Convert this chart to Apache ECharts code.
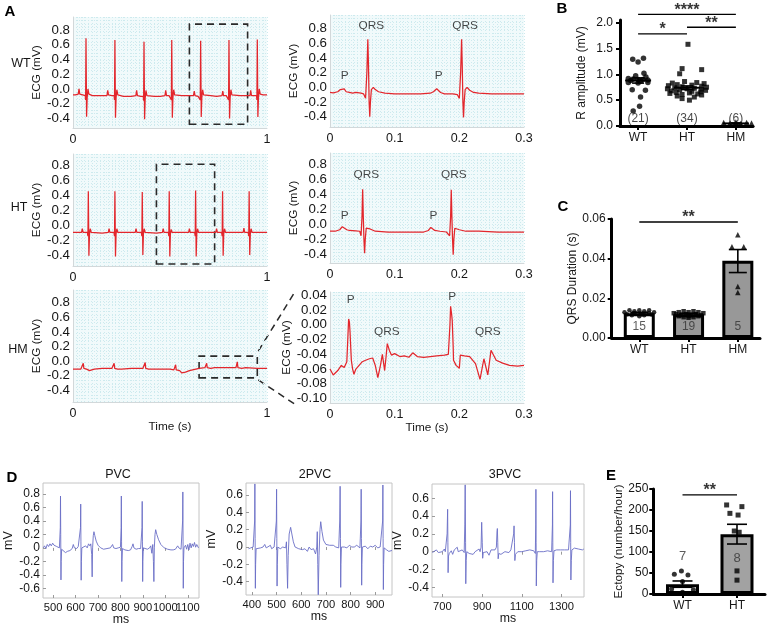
<!DOCTYPE html>
<html><head><meta charset="utf-8">
<script src="https://cdn.jsdelivr.net/npm/echarts@6/dist/echarts.min.js"></script>
<style>html,body{margin:0;padding:0;background:#fff}#c{width:767px;height:630px}</style>
</head><body><div id="c"></div>
<script>
// ---------------- DATA ----------------
const rowLabels = ['WT', 'HT', 'HM'];
// Panel A: ECG traces [time (s), mV]
const wtLong = [
[0,-0.08],[0.012,-0.08],[0.027,-0.07],[0.031,0.0],[0.035,-0.07],[0.05,-0.08],[0.063,-0.09],[0.065,-0.15],[0.067,0.687],[0.07,-0.378],[0.073,-0.12],[0.077,0.0],[0.082,-0.07],[0.1,-0.09],[0.13,-0.09],[0.16,-0.09],
[0.175,-0.09],[0.179,-0.02],[0.183,-0.08],[0.2,-0.09],[0.212,-0.09],[0.214,-0.15],[0.216,0.664],[0.219,-0.39],[0.222,-0.12],[0.226,-0.01],[0.231,-0.08],[0.26,-0.1],[0.3,-0.1],
[0.324,-0.09],[0.328,-0.02],[0.332,-0.09],[0.35,-0.1],[0.362,-0.1],[0.364,-0.16],[0.366,0.64],[0.369,-0.41],[0.372,-0.13],[0.376,-0.02],[0.381,-0.09],[0.42,-0.1],[0.45,-0.1],
[0.474,-0.09],[0.478,-0.02],[0.482,-0.09],[0.495,-0.09],[0.505,-0.09],[0.507,-0.15],[0.509,0.664],[0.512,-0.39],[0.515,-0.12],[0.519,-0.01],[0.524,-0.08],[0.56,-0.09],[0.59,-0.09],
[0.621,-0.09],[0.625,-0.03],[0.629,-0.09],[0.645,-0.1],[0.654,-0.09],[0.656,-0.15],[0.658,0.655],[0.661,-0.38],[0.664,-0.12],[0.668,-0.01],[0.673,-0.08],[0.71,-0.09],[0.74,-0.1],
[0.768,-0.09],[0.772,-0.03],[0.776,-0.09],[0.79,-0.09],[0.8,-0.09],[0.802,-0.15],[0.804,0.664],[0.807,-0.4],[0.81,-0.12],[0.814,-0.01],[0.819,-0.08],[0.86,-0.09],[0.89,-0.09],
[0.912,-0.09],[0.916,-0.02],[0.92,-0.09],[0.935,-0.09],[0.946,-0.09],[0.948,-0.15],[0.95,0.67],[0.953,-0.38],[0.956,-0.12],[0.96,0.0],[0.965,-0.07],[0.98,-0.08],[1,-0.08]
];
const htLong = [
[0,-0.1],[0.03,-0.1],[0.044,-0.1],[0.048,-0.05],[0.052,-0.1],[0.074,-0.1],[0.077,-0.15],[0.079,0.45],[0.082,-0.41],[0.085,-0.12],[0.089,-0.05],[0.094,-0.1],[0.15,-0.11],
[0.182,-0.1],[0.186,-0.05],[0.19,-0.1],[0.211,-0.1],[0.214,-0.15],[0.216,0.45],[0.219,-0.42],[0.222,-0.12],[0.226,-0.05],[0.231,-0.1],[0.29,-0.1],
[0.321,-0.1],[0.325,-0.05],[0.329,-0.1],[0.352,-0.1],[0.355,-0.15],[0.357,0.44],[0.36,-0.4],[0.363,-0.12],[0.367,-0.05],[0.372,-0.1],[0.43,-0.11],
[0.461,-0.1],[0.465,-0.05],[0.469,-0.1],[0.491,-0.1],[0.494,-0.15],[0.496,0.45],[0.499,-0.42],[0.502,-0.12],[0.506,-0.06],[0.511,-0.1],[0.57,-0.1],
[0.596,-0.1],[0.6,-0.05],[0.604,-0.1],[0.627,-0.1],[0.63,-0.15],[0.632,0.46],[0.635,-0.42],[0.638,-0.12],[0.642,-0.05],[0.647,-0.1],[0.7,-0.1],
[0.736,-0.1],[0.74,-0.05],[0.744,-0.1],[0.766,-0.1],[0.769,-0.15],[0.771,0.45],[0.774,-0.41],[0.777,-0.12],[0.781,-0.05],[0.786,-0.1],[0.85,-0.1],
[0.877,-0.1],[0.881,-0.04],[0.885,-0.1],[0.903,-0.1],[0.906,-0.15],[0.908,0.45],[0.911,-0.4],[0.914,-0.12],[0.918,-0.05],[0.923,-0.1],[1,-0.1]
];
const hmLong = [
[0,-0.11],[0.04,-0.11],[0.05,-0.1],[0.053,-0.03],[0.056,-0.1],[0.07,-0.11],[0.08,-0.12],[0.085,-0.13],[0.09,-0.11],[0.11,-0.11],[0.15,-0.1],[0.2,-0.1],
[0.21,-0.1],[0.212,-0.03],[0.215,-0.1],[0.23,-0.11],[0.24,-0.12],[0.25,-0.11],[0.26,-0.1],[0.3,-0.1],[0.36,-0.1],[0.37,-0.09],[0.372,-0.02],[0.375,-0.1],
[0.39,-0.11],[0.4,-0.12],[0.41,-0.11],[0.45,-0.11],[0.5,-0.11],[0.52,-0.12],[0.527,-0.1],[0.529,-0.05],[0.532,-0.12],[0.54,-0.14],[0.55,-0.13],[0.56,-0.16],
[0.57,-0.14],[0.58,-0.15],[0.6,-0.13],[0.65,-0.1],[0.68,-0.09],[0.686,-0.08],[0.689,-0.03],[0.692,-0.09],[0.71,-0.1],[0.72,-0.08],[0.73,-0.09],[0.8,-0.09],
[0.84,-0.09],[0.845,-0.08],[0.847,-0.01],[0.85,-0.09],[0.87,-0.1],[0.88,-0.08],[0.89,-0.09],[0.95,-0.1],[1,-0.1]
];
const wtZoom = [
[0,-0.07],[0.005,-0.075],[0.012,-0.06],[0.016,-0.03],[0.019,-0.02],[0.022,-0.02],[0.025,-0.06],[0.03,-0.07],[0.035,-0.08],[0.04,-0.07],[0.048,-0.08],[0.052,-0.09],
[0.055,-0.15],[0.057,0.2],[0.0585,0.655],[0.0595,0.3],[0.0605,-0.2],[0.0615,-0.4],[0.0625,-0.2],[0.064,-0.03],[0.067,0.0],[0.07,-0.03],[0.075,-0.06],[0.085,-0.08],
[0.1,-0.09],[0.12,-0.09],[0.14,-0.09],[0.155,-0.08],[0.16,-0.06],[0.165,-0.02],[0.168,-0.03],[0.171,-0.07],[0.177,-0.09],[0.19,-0.09],[0.197,-0.1],[0.2,-0.15],
[0.202,0.2],[0.2035,0.655],[0.2045,0.3],[0.2055,-0.2],[0.2065,-0.41],[0.2075,-0.2],[0.209,-0.03],[0.212,0.0],[0.216,-0.04],[0.222,-0.07],[0.23,-0.08],[0.25,-0.09],[0.27,-0.09],[0.3,-0.09]
];
const htZoom = [
[0,-0.09],[0.008,-0.09],[0.015,-0.07],[0.019,-0.03],[0.022,-0.03],[0.026,-0.07],[0.03,-0.08],[0.04,-0.085],[0.046,-0.09],[0.048,-0.15],[0.0495,0.1],[0.0505,0.466],
[0.0515,0.1],[0.0525,-0.2],[0.0535,-0.38],[0.0545,-0.2],[0.056,-0.05],[0.058,-0.03],[0.062,-0.06],[0.07,-0.09],[0.09,-0.1],[0.11,-0.1],[0.13,-0.1],[0.145,-0.1],
[0.152,-0.08],[0.156,-0.04],[0.159,-0.03],[0.162,-0.08],[0.17,-0.09],[0.18,-0.1],[0.185,-0.15],[0.1865,0.1],[0.1875,0.46],[0.1885,0.1],[0.1895,-0.2],[0.1905,-0.4],
[0.1915,-0.2],[0.193,-0.05],[0.195,-0.03],[0.2,-0.07],[0.21,-0.09],[0.23,-0.09],[0.26,-0.1],[0.3,-0.1]
];
const hmZoom = [
[0,-0.06],[0.005,-0.068],[0.012,-0.062],[0.0175,-0.055],[0.022,-0.058],[0.026,-0.05],[0.0275,-0.02],[0.0288,0.008],[0.03,0.004],[0.031,-0.01],[0.033,-0.048],
[0.035,-0.06],[0.037,-0.067],[0.04,-0.06],[0.045,-0.055],[0.05,-0.05],[0.055,-0.048],[0.061,-0.046],[0.066,-0.045],[0.07,-0.055],[0.074,-0.0715],[0.078,-0.055],
[0.081,-0.04],[0.0845,-0.062],[0.0865,-0.045],[0.0886,-0.0255],[0.092,-0.035],[0.095,-0.041],[0.1,-0.039],[0.108,-0.043],[0.115,-0.042],[0.122,-0.044],[0.128,-0.038],
[0.135,-0.043],[0.145,-0.044],[0.155,-0.043],[0.165,-0.042],[0.177,-0.041],[0.183,-0.04],[0.1855,0.0],[0.1865,0.025],[0.188,0.015],[0.189,0.006],[0.1905,-0.03],
[0.191,-0.048],[0.195,-0.055],[0.2,-0.059],[0.2015,-0.041],[0.208,-0.042],[0.216,-0.043],[0.225,-0.0526],[0.232,-0.074],[0.238,-0.046],[0.244,-0.068],[0.249,-0.0345],
[0.257,-0.048],[0.267,-0.052],[0.2776,-0.055],[0.29,-0.056],[0.3,-0.055]
];
// zoom boxes [[t0,v0],[t1,v1]]
const boxWT = [[0.6,-0.48],[0.9,0.88]];
const boxHT = [[0.43,-0.52],[0.73,0.81]];
const boxHM = [[0.65,-0.23],[0.95,0.068]];
// wave annotations [text, t, v]
const annWT = [['P',0.0226,0.155],['QRS',0.0638,0.837],['P',0.1679,0.155],['QRS',0.209,0.837]];
const annHT = [['P',0.0226,0.114],['QRS',0.0561,0.655],['P',0.160,0.114],['QRS',0.1915,0.655]];
const annHM = [['P',0.0318,0.0346],['QRS',0.088,-0.0097],['P',0.189,0.0377],['QRS',0.244,-0.0097]];
const aYTicks = [-0.4,-0.2,0,0.2,0.4,0.6,0.8];
const aXTicksLong = [0,1];
const aXTicksZoom = [0,0.1,0.2,0.3];
const hmZoomYTicks = [-0.1,-0.08,-0.06,-0.04,-0.02,0,0.02,0.04];

// Panel B: R amplitude [jitter, mV]
const bCategories = ['WT','HT','HM'];
const bWT = [[-0.11,1.29],[0.11,1.31],[0.0,1.24],[0.12,1.02],[-0.05,0.97],[0.16,0.95],[-0.2,0.92],[-0.1,0.91],[0.0,0.90],[0.1,0.90],[0.2,0.89],
  [-0.15,0.88],[0.05,0.87],[-0.2,0.84],[0.0,0.83],[0.2,0.84],[-0.12,0.70],[0.15,0.69],[0.05,0.56],[0.03,0.38],[-0.1,0.29]];
const bHT = [[0.02,1.58],[-0.1,1.11],[0.3,1.09],[-0.15,1.01],[-0.05,0.86],[0.2,0.84],[-0.3,0.83],[0.35,0.82],[-0.2,0.80],[0.1,0.79],[-0.38,0.78],[0.3,0.77],
  [-0.1,0.76],[0.4,0.75],[-0.25,0.74],[0.15,0.73],[-0.4,0.72],[0.0,0.72],[0.3,0.71],[-0.15,0.70],[0.38,0.69],[-0.32,0.68],[0.1,0.67],[0.28,0.66],[-0.22,0.65],
  [0.05,0.64],[-0.35,0.63],[0.22,0.62],[-0.1,0.61],[0.3,0.60],[-0.2,0.58],[0.15,0.56],[-0.1,0.53],[0.05,0.50]];
const bHM = [[-0.25,0.06],[-0.12,0.05],[0.0,0.07],[0.1,0.04],[0.22,0.06],[0.32,0.05]];
const bSummary = [[0,0.88,0.83,0.93],[1,0.74,0.705,0.775],[2,0.05,0.04,0.06]]; // [cat, mean, lo, hi]
const bCounts = [['(21)',0,0.14],['(34)',1,0.14],['(6)',2,0.14]];
const bYTicks = [0,0.5,1,1.5,2];
const sigB = [[0,2,2.16,'****'],[0,1,1.78,'*'],[1,2,1.91,'**']];

// Panel C: QRS duration
const cBars = [0.0125,0.012,0.039];
const cErr = [[0,0.012,0.013],[1,0.0115,0.0125],[2,0.033,0.0446]];
const cWT = [[-0.3,0.013],[-0.2,0.014],[-0.1,0.0135],[0,0.014],[0.1,0.0135],[0.2,0.014],[0.3,0.013],[-0.25,0.012],[-0.1,0.0125],[0.05,0.012],[0.2,0.0125],[-0.15,0.0115],[0.1,0.0115],[0.25,0.0118],[0.0,0.011]];
const cHT = [[-0.3,0.0125],[-0.2,0.013],[-0.1,0.0135],[0,0.013],[0.1,0.0135],[0.2,0.013],[0.3,0.0125],[-0.25,0.012],[-0.15,0.0115],[-0.05,0.012],[0.05,0.0115],[0.15,0.012],[0.25,0.0115],[-0.2,0.011],[0,0.011],[0.2,0.011],[-0.1,0.0105],[0.1,0.0105],[0,0.0102]];
const cHM = [[0,0.052],[-0.12,0.046],[0.12,0.046],[0,0.026],[0,0.023]];
const cCounts = [['15',0,0.0055],['19',1,0.0055],['5',2,0.0055]];
const cYTicks = [0,0.02,0.04,0.06];
const sigC = [[0,2,0.0585,'**']];

// Panel D: PVC traces [ms, mV]
const pvc1 = [
[456,0],[462,0.03],[468,-0.01],[474,0.05],[480,0.02],[486,0.06],[492,0.03],[498,0.07],[504,0.04],[510,0.06],[516,0.02],[522,0.03],[528,0.0],[531,-0.02],[532,0.3],[533,0.77],[534,0.2],[535,-0.476],[536,-0.2],[538,-0.02],
[545,-0.04],[555,-0.07],[565,-0.05],[575,-0.04],[585,-0.01],[590,0.05],[595,0.0],[605,-0.01],[612,0.02],[617,0.03],[620,0.0],[622,0.3],[623,0.65],[624,0.1],[625,-0.48],[626,-0.2],[628,0.0],
[635,-0.02],[645,0.03],[652,0.0],[658,0.06],[664,0.03],[668,0.06],[671,0.05],[672,-0.1],[674,-0.43],[676,0.0],[679,0.18],[682,0.24],[686,0.18],[692,0.1],[700,0.04],[712,0.0],[725,-0.02],
[740,-0.01],[755,0.0],[765,0.05],[770,0.0],[780,-0.01],[790,0.0],[795,-0.02],[800,0.01],[803,0.3],[804,0.77],[805,0.1],[806,-0.5],[807,-0.2],[809,-0.01],[820,-0.03],[835,-0.04],[845,-0.03],
[852,0.02],[856,0.06],[860,0.0],[870,-0.02],[880,-0.01],[890,-0.01],[895,0.0],[896,0.3],[897,0.69],[898,0.1],[899,-0.5],[900,-0.2],[902,0.0],[910,-0.02],[920,-0.02],[930,0.0],[935,0.03],
[940,-0.08],[944,0.05],[947,-0.2],[949,-0.5],[951,0.0],[954,0.2],[957,0.27],[962,0.2],[970,0.12],[980,0.05],[995,0.0],[1010,-0.02],[1025,-0.03],[1035,-0.03],[1045,-0.02],[1055,0.03],[1060,0.0],
[1070,-0.02],[1076,0.0],[1077,0.4],[1078,0.83],[1079,0.1],[1080,-0.6],[1081,-0.2],[1083,0.0],[1090,0.04],[1095,-0.02],[1100,0.05],[1105,-0.03],[1110,0.07],[1115,0.0],[1120,0.06],[1125,0.02],
[1130,0.08],[1135,0.01],[1140,0.05],[1148,0.0]
];
const pvc2 = [
[386,-0.02],[395,-0.01],[405,0.0],[409,-0.02],[411,0.3],[412,0.727],[413,0.1],[414,-0.476],[415,-0.2],[417,-0.02],[425,-0.03],[435,-0.01],[445,0.0],[452,0.03],[458,-0.01],[465,0.0],[475,0.02],
[480,-0.02],[490,0.0],[495,-0.01],[498,0.0],[499,0.3],[500,0.666],[501,0.1],[502,-0.45],[503,-0.2],[505,0.0],[515,-0.02],[525,0.0],[532,0.02],[537,-0.01],[540,0.06],[542,-0.2],[544.6,-0.476],
[547,-0.1],[551,0.15],[557,0.227],[562,0.15],[568,0.06],[575,0.0],[590,-0.02],[605,-0.03],[615,-0.02],[625,-0.05],[632,0.0],[640,-0.03],[650,-0.02],[658,-0.08],[663,0.0],[665,0.177],[667,-0.2],
[669,-0.55],[672,-0.1],[676,0.2],[679,0.292],[684,0.18],[690,0.08],[700,0.03],[715,0.02],[730,0.02],[740,0.0],[748,0.02],[752,-0.01],[756,0.3],[757.6,0.7],[759,0.1],[760,-0.465],[761,-0.2],
[763,0.0],[775,0.0],[785,-0.01],[795,0.02],[805,0.0],[815,0.0],[825,0.02],[830,0.0],[838,-0.01],[842,0.3],[843,0.666],[844,0.1],[845,-0.44],[846,-0.2],[848,0.0],[860,0.01],[870,-0.02],[880,0.01],
[890,0.0],[900,0.02],[910,-0.01],[920,0.0],[928,-0.02],[930,0.3],[931,0.715],[932,0.1],[933,-0.49],[934,-0.2],[936,-0.01],[945,-0.03],[955,-0.05],[968,-0.04]
];
const pvc3 = [
[650,-0.01],[660,0.0],[670,0.02],[680,-0.01],[690,0.01],[700,0.0],[710,0.03],[715,0.0],[720,-0.02],[724,0.2],[726.7,0.476],[728,0.1],[729,-0.236],[731,-0.05],[735,-0.02],[745,0.01],[752,-0.03],
[760,0.02],[768,0.0],[775,0.05],[780,0.0],[790,-0.01],[800,0.02],[810,-0.01],[813,0.3],[815,0.75],[817,0.1],[818,-0.36],[820,-0.1],[823,0.0],[835,-0.02],[845,-0.04],[855,-0.03],[865,0.0],
[875,-0.01],[885,0.03],[890,0.0],[895,0.05],[898,0.33],[899,0.35],[901,0.1],[903,-0.074],[906,-0.01],[915,-0.02],[925,0.0],[935,-0.04],[945,0.02],[955,0.0],[965,0.02],[972,0.05],[975,0.22],
[977,0.26],[979,0.1],[981,-0.08],[984,-0.02],[995,-0.03],[1005,-0.01],[1015,0.0],[1025,0.02],[1035,-0.01],[1045,0.02],[1055,0.03],[1059,0.2],[1061,0.29],[1063,0.1],[1065,-0.1],[1068,-0.03],
[1080,0.0],[1090,-0.02],[1100,0.0],[1110,-0.01],[1120,0.01],[1130,0.0],[1140,0.02],[1150,0.0],[1160,0.01],[1168,-0.02],[1170,0.3],[1171,0.70],[1172,0.1],[1173,-0.385],[1175,-0.1],[1178,0.0],
[1190,0.0],[1200,0.02],[1210,0.0],[1220,0.02],[1230,0.01],[1240,0.02],[1250,0.0],[1254,0.3],[1255,0.674],[1256,0.1],[1257,-0.35],[1259,-0.1],[1262,0.01],[1275,0.02],[1285,0.03],[1295,0.02],
[1305,0.03],[1315,0.02],[1325,0.04],[1335,0.02],[1344,0.3],[1345,0.685],[1346,0.1],[1347,-0.318],[1349,-0.1],[1352,0.02],[1365,0.04],[1375,0.02],[1385,0.03],[1395,0.05],[1405,0.02],[1412,0.03]
];
const dTitles = ['PVC','2PVC','3PVC'];
const d1XTicks = [500,600,700,800,900,1000,1100];
const d2XTicks = [400,500,600,700,800,900];
const d3XTicks = [700,900,1100,1300];
const d1YTicks = [-0.6,-0.4,-0.2,0,0.2,0.4,0.6,0.8];
const d23YTicks = [-0.4,-0.2,0,0.2,0.4,0.6];

// Panel E: Ectopy
const eCategories = ['WT','HT'];
const eBars = [23,142];
const eErr = [[0,16,31],[1,119,166]];
const eWT = [[-0.02,55],[-0.15,47],[0.1,45],[0.0,30],[-0.2,12],[0.2,10],[0.0,4]];
const eHT = [[-0.19,212],[0.09,208],[-0.13,192],[0.02,188],[0.04,147],[-0.05,150],[0,55],[0,33]];
const eCounts = [['7',0,90],['8',1,85]];
const eYTicks = [0,50,100,150,200,250];
const sigE = [[0,1,236,'**']];

// ---------------- BUILD ----------------
const F = '"Liberation Sans", Arial, Helvetica, sans-serif';
const RED = '#e3262c', BLUE = '#6a6ec6', INK = '#161616';
const grid = [], xAxis = [], yAxis = [], series = [];
const f1 = v => v.toFixed(1), f2 = v => v.toFixed(2);
const fz = v => (v === 0 ? '0' : String(+v.toFixed(1)));
const fi = v => String(Math.round(v));
const keepAll = {hideOverlap: false, showMinLabel: true, showMaxLabel: true};

function panel(rect, gopt, xa, ya) {
  const gi = grid.length;
  grid.push(Object.assign({left: rect[0], top: rect[1], width: rect[2], height: rect[3]}, gopt));
  xAxis.push(Object.assign({gridIndex: gi, type: 'value', splitLine: {show: false}}, xa));
  yAxis.push(Object.assign({gridIndex: gi, type: 'value', splitLine: {show: false}}, ya));
  return {gi: gi, xi: xAxis.length - 1, yi: yAxis.length - 1};
}
const txt = (size, extra) => Object.assign({fontSize: size, color: INK, fontFamily: F}, extra || {});

function aPanel(rect, xr, yr, xTicks, xFmt, yTicks, yFmt, nameGap, xName, pat) {
  const p = panel(rect, {show: true, backgroundColor: '#f1fafb', borderWidth: 0},
    {min: xr[0], max: xr[1], axisLine: {show: true, onZero: false, lineStyle: {color: '#d2d8da'}}, axisTick: {show: false},
     axisLabel: Object.assign({customValues: xTicks, formatter: xFmt, margin: 5}, keepAll, txt(12.5)),
     name: xName, nameLocation: 'middle', nameGap: 16, nameTextStyle: txt(11.8)},
    {min: yr[0], max: yr[1], axisLine: {show: true, onZero: false, lineStyle: {color: '#d2d8da'}}, axisTick: {show: false},
     axisLabel: Object.assign({customValues: yTicks, formatter: yFmt, margin: 3}, keepAll, txt(13.3)),
     name: 'ECG (mV)', nameLocation: 'middle', nameGap: nameGap, nameTextStyle: txt(11.8)});
  // ECG-paper texture
  const hidden = {axisLine: {show: false}, axisTick: {show: false}, axisLabel: {show: false}};
  xAxis.push(Object.assign({gridIndex: p.gi, type: 'value', position: 'top', min: pat[0], max: pat[1], interval: pat[2],
    splitLine: {show: true, lineStyle: {color: '#cdeaee', width: 1, type: [1, 2]}}}, hidden));
  yAxis.push(Object.assign({gridIndex: p.gi, type: 'value', position: 'right', min: pat[3], max: pat[4], interval: pat[5],
    splitLine: {show: true, lineStyle: {color: '#cdeaee', width: 1, type: [1, 2]}}}, hidden));
  return p;
}
function trace(p, data, color, width, box) {
  const s = {type: 'line', xAxisIndex: p.xi, yAxisIndex: p.yi, data: data, symbol: 'none', showSymbol: false,
    lineStyle: {color: color, width: width}, animation: false, z: 3, silent: true};
  if (box) s.markArea = {silent: true, itemStyle: {color: 'rgba(0,0,0,0)', borderColor: '#2a2a2a', borderWidth: 1.6, borderType: [7, 5]},
    data: [[{coord: box[0]}, {coord: box[1]}]]};
  series.push(s);
  return series.length - 1;
}
function labels(p, arr, style, offset) {
  series.push({type: 'scatter', xAxisIndex: p.xi, yAxisIndex: p.yi, symbolSize: 1, itemStyle: {color: 'rgba(0,0,0,0)'},
    silent: true, clip: false, z: 8, animation: false,
    data: arr.map(a => ({name: a[0], value: [a[1], a[2]]})),
    label: Object.assign({show: true, position: 'inside', formatter: '{b}', offset: offset || [0, 0]}, style)});
}
function sig(p, arr) {
  arr.forEach(s => series.push({type: 'line', xAxisIndex: p.xi, yAxisIndex: p.yi, data: [[s[0], s[2]], [s[1], s[2]]],
    symbol: 'none', clip: false, silent: true, animation: false, lineStyle: {color: '#000', width: 1.3}, z: 7}));
  labels(p, arr.map(s => [s[3], (s[0] + s[1]) / 2, s[2]]), txt(16, {fontWeight: 'bold', color: '#000'}), [0, -4]);
}
function pts(p, data, symbol, size) {
  series.push({type: 'scatter', xAxisIndex: p.xi, yAxisIndex: p.yi, data: data, symbol: symbol, symbolSize: size,
    itemStyle: {color: '#000'}, z: 6, animation: false, silent: true});
}
function catPts(p, cat, data, symbol, size) { pts(p, data.map(d => [cat + d[0], d[1]]), symbol, size); }
function errBars(p, data, capHalf, meanHalf) {
  series.push({type: 'custom', xAxisIndex: p.xi, yAxisIndex: p.yi, data: data, z: 7, animation: false, silent: true, clip: false,
    renderItem: function (params, api) {
      const hasMean = data[0].length === 4;
      const x = api.value(0);
      const lo = api.coord([x, api.value(hasMean ? 2 : 1)]);
      const hi = api.coord([x, api.value(hasMean ? 3 : 2)]);
      const st = {stroke: '#000', lineWidth: 1.6};
      const ch = [
        {type: 'line', shape: {x1: lo[0], y1: lo[1], x2: hi[0], y2: hi[1]}, style: st},
        {type: 'line', shape: {x1: lo[0] - capHalf, y1: lo[1], x2: lo[0] + capHalf, y2: lo[1]}, style: st},
        {type: 'line', shape: {x1: hi[0] - capHalf, y1: hi[1], x2: hi[0] + capHalf, y2: hi[1]}, style: st}];
      if (hasMean) {
        const m = api.coord([x, api.value(1)]);
        ch.push({type: 'line', shape: {x1: m[0] - meanHalf, y1: m[1], x2: m[0] + meanHalf, y2: m[1]}, style: {stroke: '#000', lineWidth: 2}});
      }
      return {type: 'group', children: ch};
    }});
}
const blackAxis = {show: true, onZero: false, lineStyle: {color: '#000', width: 3}};
const blackTick = (vals) => ({show: true, customValues: vals, length: 4, lineStyle: {color: '#000', width: 2}});

// ---- Panel A ----
const pWTl = aPanel([73, 17, 194, 111], [0, 1], [-0.53, 0.977], aXTicksLong, fz, aYTicks, f1, 18, '', [0, 1, 0.02, -0.55, 1.0, 0.05]);
const pWTr = aPanel([330, 15, 194, 112], [0, 0.3], [-0.541, 0.987], aXTicksZoom, fz, aYTicks, f1, 25, '', [0, 0.3, 0.006, -0.55, 1.0, 0.05]);
const pHTl = aPanel([73, 154, 194, 112], [0, 1], [-0.547, 0.947], aXTicksLong, fz, aYTicks, f1, 18, '', [0, 1, 0.02, -0.55, 1.0, 0.05]);
const pHTr = aPanel([330, 153, 194, 110], [0, 0.3], [-0.51, 0.945], aXTicksZoom, fz, aYTicks, f1, 25, '', [0, 0.3, 0.006, -0.55, 1.0, 0.05]);
const pHMl = aPanel([73, 290, 194, 112], [0, 1], [-0.56, 0.974], aXTicksLong, fz, aYTicks, f1, 18, 'Time (s)', [0, 1, 0.02, -0.55, 1.0, 0.05]);
const pHMr = aPanel([330, 292, 194, 111], [0, 0.3], [-0.106, 0.0445], aXTicksZoom, fz, hmZoomYTicks, f2, 33, 'Time (s)', [0, 0.3, 0.006, -0.11, 0.045, 0.005]);
trace(pWTl, wtLong, RED, 1.25, boxWT);
trace(pWTr, wtZoom, RED, 1.25);
trace(pHTl, htLong, RED, 1.25, boxHT);
trace(pHTr, htZoom, RED, 1.25);
const sHMl = trace(pHMl, hmLong, RED, 1.25, boxHM);
const sHMr = trace(pHMr, hmZoom, RED, 1.25);
labels(pWTr, annWT, txt(11.8));
labels(pHTr, annHT, txt(11.8));
labels(pHMr, annHM, txt(11.8));

// ---- Panel B ----
const pB = panel([620, 20, 133, 106], {},
  {min: -0.37, max: 2.35, axisLine: blackAxis, axisTick: blackTick([0, 1, 2]),
   axisLabel: Object.assign({customValues: [0, 1, 2], formatter: v => bCategories[Math.round(v)], margin: 6}, keepAll, txt(12))},
  {min: 0, max: 2.05, axisLine: blackAxis, axisTick: blackTick(bYTicks),
   axisLabel: Object.assign({customValues: bYTicks, formatter: f1, margin: 7}, keepAll, txt(12)),
   name: 'R amplitude (mV)', nameLocation: 'middle', nameGap: 32, nameTextStyle: txt(12)});
catPts(pB, 0, bWT, 'circle', 5.5);
catPts(pB, 1, bHT, 'rect', 5);
catPts(pB, 2, bHM, 'triangle', 6.5);
errBars(pB, bSummary, 6, 13);
labels(pB, bCounts, txt(12));
sig(pB, sigB);

// ---- Panel C ----
const pC = panel([611.7, 219, 148.3, 119], {},
  {min: -0.56, max: 2.45, axisLine: blackAxis, axisTick: blackTick([0, 1, 2]),
   axisLabel: Object.assign({customValues: [0, 1, 2], formatter: v => bCategories[Math.round(v)], margin: 6}, keepAll, txt(12))},
  {min: 0, max: 0.06, axisLine: blackAxis, axisTick: blackTick(cYTicks),
   axisLabel: Object.assign({customValues: cYTicks, formatter: f2, margin: 6}, keepAll, txt(12)),
   name: 'QRS Duration (s)', nameLocation: 'middle', nameGap: 32, nameTextStyle: txt(12)});
series.push({type: 'bar', xAxisIndex: pC.xi, yAxisIndex: pC.yi, barWidth: 31, z: 4, animation: false, silent: true,
  data: cBars.map((v, i) => ({value: [i, v], itemStyle: {color: i === 0 ? '#ffffff' : '#989898', borderColor: '#000', borderWidth: 3}}))});
catPts(pC, 0, cWT, 'circle', 4.5);
catPts(pC, 1, cHT, 'rect', 4.5);
catPts(pC, 2, cHM, 'triangle', 5.5);
errBars(pC, cErr, 9);
labels(pC, cCounts, txt(12, {color: '#333'}));
sig(pC, sigC);

// ---- Panel D ----
function dPanel(rect, xr, yr, xTicks, yTicks, nameGap) {
  // an empty label at the axis end keeps ECharts' first/last-label overlap rule from dropping a tick label
  const labelVals = xTicks.concat([xr[1]]);
  const p = panel(rect, {show: true, borderColor: '#c4c4c4', borderWidth: 1, backgroundColor: '#fff'},
    {min: xr[0], max: xr[1], axisLine: {show: false, onZero: false},
     axisTick: {show: true, inside: true, customValues: xTicks, length: 3, lineStyle: {color: '#9a9a9a'}},
     axisLabel: Object.assign({customValues: labelVals, formatter: v => (v === xr[1] ? '' : fi(v)), margin: 4},
       {hideOverlap: false}, txt(11.2)),
     name: 'ms', nameLocation: 'middle', nameGap: 15, nameTextStyle: txt(12.3)},
    {min: yr[0], max: yr[1], axisLine: {show: false, onZero: false},
     axisTick: {show: true, inside: true, customValues: yTicks, length: 3, lineStyle: {color: '#9a9a9a'}},
     axisLabel: Object.assign({customValues: yTicks, formatter: fz, margin: 3}, keepAll, txt(12)),
     name: 'mV', nameLocation: 'middle', nameGap: nameGap, nameTextStyle: txt(12.5)});
  xAxis.push({gridIndex: p.gi, type: 'value', position: 'top', min: xr[0], max: xr[1], axisLine: {show: false},
    axisTick: {show: true, inside: true, customValues: xTicks, length: 3, lineStyle: {color: '#9a9a9a'}},
    axisLabel: {show: false}, splitLine: {show: false}});
  return p;
}
const pD1 = dPanel([43, 483, 156, 115], [455, 1150], [-0.744, 0.963], d1XTicks, d1YTicks, 21);
const pD2 = dPanel([246, 483, 146, 112], [376, 968], [-0.553, 0.738], d2XTicks, d23YTicks, 26);
const pD3 = dPanel([432, 484, 152, 113], [648, 1413], [-0.509, 0.76], d3XTicks, d23YTicks, 21);
trace(pD1, pvc1, BLUE, 0.9);
trace(pD2, pvc2, BLUE, 0.9);
trace(pD3, pvc3, BLUE, 0.9);

// ---- Panel E ----
const pE = panel([653.3, 489, 111.7, 105], {},
  {min: -0.536, max: 1.514, axisLine: blackAxis, axisTick: blackTick([0, 1]),
   axisLabel: Object.assign({customValues: [0, 1], formatter: v => eCategories[Math.round(v)], margin: 6}, keepAll, txt(12))},
  {min: 0, max: 250, axisLine: blackAxis, axisTick: blackTick(eYTicks),
   axisLabel: Object.assign({customValues: eYTicks, formatter: fi, margin: 5}, keepAll, txt(12)),
   name: 'Ectopy (number/hour)', nameLocation: 'middle', nameGap: 23, nameTextStyle: txt(11.8)});
series.push({type: 'bar', xAxisIndex: pE.xi, yAxisIndex: pE.yi, barWidth: 33, z: 4, animation: false, silent: true,
  data: eBars.map((v, i) => ({value: [i, v], itemStyle: {color: i === 0 ? '#ffffff' : '#a2a2a2', borderColor: '#000', borderWidth: 3}}))});
catPts(pE, 0, eWT, 'circle', 5);
catPts(pE, 1, eHT, 'rect', 5);
errBars(pE, eErr, 10);
labels(pE, eCounts, txt(13, {color: '#333'}));
sig(pE, sigE);

// ---- texts ----
const graphic = [];
function gtext(id, text, x, y, style) {
  graphic.push({id: id, type: 'text', x: x, y: y, silent: true,
    style: Object.assign({text: text, align: 'center', verticalAlign: 'middle', fill: INK, font: '12px ' + F}, style || {})});
}
gtext('lA', 'A', 10, 12, {font: 'bold 15px ' + F, fill: '#000'});
gtext('lB', 'B', 562, 9, {font: 'bold 15px ' + F, fill: '#000'});
gtext('lC', 'C', 563, 207, {font: 'bold 15px ' + F, fill: '#000'});
gtext('lD', 'D', 12, 478, {font: 'bold 15px ' + F, fill: '#000'});
gtext('lE', 'E', 611, 476, {font: 'bold 15px ' + F, fill: '#000'});
gtext('r0', rowLabels[0], 21, 64, {font: '12.5px ' + F});
gtext('r1', rowLabels[1], 19, 208, {font: '12.5px ' + F});
gtext('r2', rowLabels[2], 18, 350, {font: '12.5px ' + F});
gtext('t0', dTitles[0], 118, 475, {font: '12.5px ' + F});
gtext('t1', dTitles[1], 315, 475, {font: '12.5px ' + F});
gtext('t2', dTitles[2], 505, 475, {font: '12.5px ' + F});

const chart = echarts.init(document.getElementById('c'));
chart.setOption({animation: false, backgroundColor: '#fff', grid: grid, xAxis: xAxis, yAxis: yAxis, series: series, graphic: graphic});

// dashed connectors from HM zoom box to the zoomed panel
const cTop = chart.convertToPixel({seriesIndex: sHMl}, [boxHM[1][0], boxHM[1][1]]);
const cBot = chart.convertToPixel({seriesIndex: sHMl}, [boxHM[1][0], boxHM[0][1]]);
const rTop = chart.convertToPixel({seriesIndex: sHMr}, [0, 0.0445]);
const rBot = chart.convertToPixel({seriesIndex: sHMr}, [0, -0.106]);
const dash = {stroke: '#2a2a2a', lineWidth: 1.5, lineDash: [7, 5]};
chart.setOption({graphic: [
  {id: 'cn1', type: 'line', silent: true, shape: {x1: cTop[0] + 1, y1: cTop[1] - 5, x2: rTop[0] - 34, y2: rTop[1] - 2}, style: dash},
  {id: 'cn2', type: 'line', silent: true, shape: {x1: cBot[0] + 1, y1: cBot[1] + 2, x2: rBot[0] - 34, y2: rBot[1] + 2}, style: dash}
]});
</script></body></html>
